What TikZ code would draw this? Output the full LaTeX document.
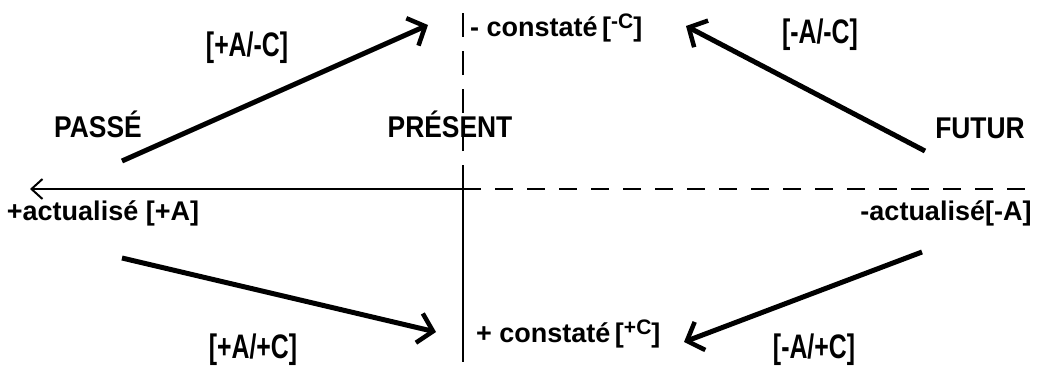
\documentclass[tikz,border=0pt]{standalone}
\usepackage{fontspec}
\setmainfont{Liberation Sans}
\newfontfamily\capsf[FakeStretch=0.88]{Liberation Sans}
\newfontfamily\brf[FakeStretch=0.73]{Liberation Sans}
\usetikzlibrary{arrows.meta}
\newcommand{\supC}[1]{\raisebox{8pt}{\fontsize{21}{21}\selectfont #1}}
\begin{document}
\begin{tikzpicture}[x=1pt,y=-1pt,
  word/.style={font=\capsf\bfseries\fontsize{30}{30}\selectfont, inner sep=0pt},
  feat/.style={font=\bfseries\fontsize{27}{27}\selectfont, inner sep=0pt},
  blab/.style={font=\brf\bfseries\fontsize{34}{34}\selectfont, inner sep=0pt},
  bigarrow/.style={line width=5pt, -{Straight Barb[length=14pt,width=30pt,line width=4.5pt]}},
  axis/.style={line width=2.5pt},
  dashv/.style={axis, dash pattern=on 24pt off 14pt},
  dashh/.style={axis, dash pattern=on 18pt off 14pt}]
\useasboundingbox (0,0) rectangle (1041,369);

% axes
\coordinate (vtop) at (463,13);
\coordinate (origin) at (463,189);
\coordinate (vbot) at (463,362);
\coordinate (hleft) at (30,189);
\coordinate (hright) at (1030,189);
\draw[dashv] (origin) -- (vtop);
\draw[axis] (origin) -- (vbot);
\draw[axis, -{Straight Barb[length=11pt,width=20pt,line width=2pt]}] (origin) -- (hleft);
\draw[dashh] (origin) -- (hright);

% labels
\node[word, anchor=base] (passe) at (98,137) {PASSÉ};
\node[word, anchor=base] (present) at (450,137) {PRÉSENT};
\node[word, anchor=base] (futur) at (980,138) {FUTUR};
\node[feat, anchor=base] (plusA) at (103,220) {+actualisé [+A]};
\node[feat, anchor=base] (minusA) at (946,220) {-actualisé[-A]};
\node[feat, anchor=base west] (minusC) at (470,37) {- constaté\,[\supC{-C}]};
\node[feat, anchor=base west] (plusC) at (476,342) {+ constaté\,[\supC{+C}]};
\node[blab] (pAmC) at (247,48) {[+A/-C]};
\node[blab] (mAmC) at (820,35) {[-A/-C]};
\node[blab] (pApC) at (253,350) {[+A/+C]};
\node[blab] (mApC) at (814,350) {[-A/+C]};

% arrows
\coordinate (tlS) at (122,161); \coordinate (tlE) at (428,25);
\coordinate (trS) at (925,151); \coordinate (trE) at (686,26);
\coordinate (blS) at (122,258); \coordinate (blE) at (436,332);
\coordinate (brS) at (922,252); \coordinate (brE) at (684,342);
\draw[bigarrow] (tlS) -- (tlE);
\draw[bigarrow] (trS) -- (trE);
\draw[bigarrow] (blS) -- (blE);
\draw[bigarrow] (brS) -- (brE);
\end{tikzpicture}
\end{document}
